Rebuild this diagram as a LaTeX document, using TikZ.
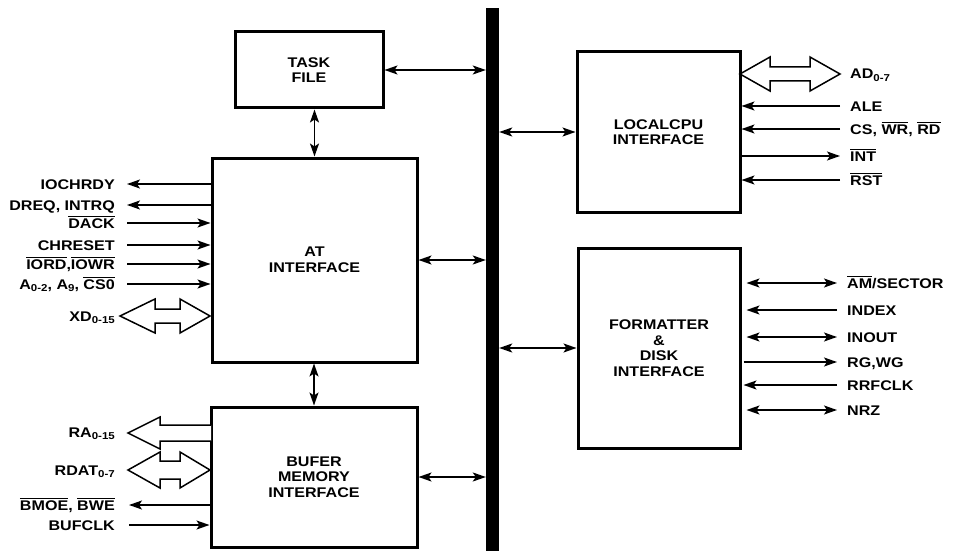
\documentclass[tikz,border=0pt]{standalone}
\usepackage{fontspec}
\setmainfont{Liberation Sans}[FakeStretch=1.15]
\usetikzlibrary{arrows.meta}
\newcommand\ovl[1]{\vbox{\hrule height 1.1pt\kern1.3pt\hbox{#1}}}
\newcommand\sbs[1]{\raisebox{-2pt}{\fontsize{10}{10}\selectfont #1}}
\begin{document}
\begin{tikzpicture}[x=1pt,y=-1pt,
  blk/.style={draw, line width=3pt, font=\bfseries\fontsize{14}{15.5}\selectfont, align=center, inner sep=0pt},
  sig/.style={font=\bfseries\fontsize{14}{16}\selectfont, text height=10pt, text depth=0pt, inner sep=0pt},
  arr/.style={line width=1.6pt, -{Stealth[length=13pt,width=9pt,inset=3pt]}},
  darr/.style={line width=1.6pt, {Stealth[length=13pt,width=9pt,inset=3pt]}-{Stealth[length=13pt,width=9pt,inset=3pt]}},
  fat/.style={draw, line width=1.5pt, fill=white, line join=miter}]
\useasboundingbox (0,0) rectangle (954,551);
% bus
\node[fill=black, inner sep=0pt, minimum width=13pt, minimum height=543pt] (bus) at (492.5,279.5) {};
% blocks
\node[blk, minimum width=148pt, minimum height=76pt] (tf) at (309,70) {TASK\\FILE};
\node[blk, minimum width=205pt, minimum height=204pt] (at) at (314.5,260) {AT\\INTERFACE};
\node[blk, minimum width=206pt, minimum height=140pt] (buf) at (314,477) {BUFER\\MEMORY\\INTERFACE};
\node[blk, minimum width=163pt, minimum height=160pt] (cpu) at (658.5,132) {LOCALCPU\\INTERFACE};
\node[blk, minimum width=162pt, minimum height=200pt] (fmt) at (659,348) {FORMATTER\\\&\\DISK\\INTERFACE};
% internal connectors
\draw[darr] (tf.east) -- (tf.east -| bus.west);
\draw[darr] (at.north |- tf.south) -- (at.north);
\draw[darr] (at.east) -- (at.east -| bus.west);
\draw[darr] (buf.north |- at.south) -- (buf.north);
\draw[darr] (buf.east) -- (buf.east -| bus.west);
\draw[darr] (bus.east |- cpu.west) -- (cpu.west);
\draw[darr] (bus.east |- fmt.west) -- (fmt.west);
% AT left signals
\node[sig, anchor=east] (ioc) at (115,184) {IOCHRDY};
\node[sig, anchor=east] (dreq) at (115,205) {DREQ, INTRQ};
\node[sig, anchor=east] (dack) at (115,223) {\ovl{DACK}};
\node[sig, anchor=east] (chr) at (115,245) {CHRESET};
\node[sig, anchor=east] (iord) at (115,264) {\ovl{IORD},\ovl{IOWR}};
\node[sig, anchor=east] (addr) at (115,284) {A\sbs{0-2}, A\sbs{9}, \ovl{CS0}};
\node[sig, anchor=east] (xd) at (115,316) {XD\sbs{0-15}};
\draw[arr] (ioc.east -| at.west) -- ([xshift=12pt]ioc.east);
\draw[arr] (dreq.east -| at.west) -- ([xshift=12pt]dreq.east);
\draw[arr] ([xshift=12pt]dack.east) -- (dack.east -| at.west);
\draw[arr] ([xshift=12pt]chr.east) -- (chr.east -| at.west);
\draw[arr] ([xshift=12pt]iord.east) -- (iord.east -| at.west);
\draw[arr] ([xshift=12pt]addr.east) -- (addr.east -| at.west);
\draw[fat] (120,316) -- (155,299) -- (155,309) -- (180,309) -- (180,299) -- (210,316) -- (180,333) -- (180,323) -- (155,323) -- (155,333) -- cycle;
% Buffer left signals
\node[sig, anchor=east] (ra) at (115,432) {RA\sbs{0-15}};
\node[sig, anchor=east] (rdat) at (115,470) {RDAT\sbs{0-7}};
\node[sig, anchor=east] (bmoe) at (115,505) {\ovl{BMOE}, \ovl{BWE}};
\node[sig, anchor=east] (bufclk) at (115,525) {BUFCLK};
\filldraw[fat] (211,425) -- (160,425) -- (160,417) -- (128,433) -- (160,449) -- (160,441) -- (211,441);
\draw[fat] (128,470) -- (160,452) -- (160,461) -- (180,461) -- (180,452) -- (210,470) -- (180,488) -- (180,479) -- (160,479) -- (160,488) -- cycle;
\draw[arr] (bmoe.east -| buf.west) -- ([xshift=14pt]bmoe.east);
\draw[arr] ([xshift=14pt]bufclk.east) -- (bufclk.east -| buf.west);
% Local CPU signals
\node[sig, anchor=west] (ad) at (850,74) {AD\sbs{0-7}};
\node[sig, anchor=west] (ale) at (850,106) {ALE};
\node[sig, anchor=west] (cs) at (850,129) {CS, \ovl{WR}, \ovl{RD}};
\node[sig, anchor=west] (int) at (850,156) {\ovl{INT}};
\node[sig, anchor=west] (rst) at (850,180) {\ovl{RST}};
\draw[fat] (740,74) -- (770,57) -- (770,67) -- (810,67) -- (810,57) -- (840,74) -- (810,91) -- (810,81) -- (770,81) -- (770,91) -- cycle;
\draw[arr] ([xshift=-10pt]ale.west) -- (ale.west -| cpu.east);
\draw[arr] ([xshift=-10pt]cs.west) -- (cs.west -| cpu.east);
\draw[arr] (int.west -| cpu.east) -- ([xshift=-10pt]int.west);
\draw[arr] ([xshift=-10pt]rst.west) -- (rst.west -| cpu.east);
% Formatter signals
\node[sig, anchor=west] (am) at (847,283) {\ovl{AM}/SECTOR};
\node[sig, anchor=west] (idx) at (847,310) {INDEX};
\node[sig, anchor=west] (inout) at (847,337) {INOUT};
\node[sig, anchor=west] (rg) at (847,362) {RG,WG};
\node[sig, anchor=west] (rrf) at (847,385) {RRFCLK};
\node[sig, anchor=west] (nrz) at (847,410) {NRZ};
\draw[darr] ([xshift=5pt]am.west -| fmt.east) -- ([xshift=-10pt]am.west);
\draw[arr] ([xshift=-10pt]idx.west) -- ([xshift=5pt]idx.west -| fmt.east);
\draw[darr] ([xshift=5pt]inout.west -| fmt.east) -- ([xshift=-10pt]inout.west);
\draw[arr] ([xshift=2pt]rg.west -| fmt.east) -- ([xshift=-10pt]rg.west);
\draw[arr] ([xshift=-10pt]rrf.west) -- ([xshift=2pt]rrf.west -| fmt.east);
\draw[darr] ([xshift=5pt]nrz.west -| fmt.east) -- ([xshift=-10pt]nrz.west);
\end{tikzpicture}
\end{document}
